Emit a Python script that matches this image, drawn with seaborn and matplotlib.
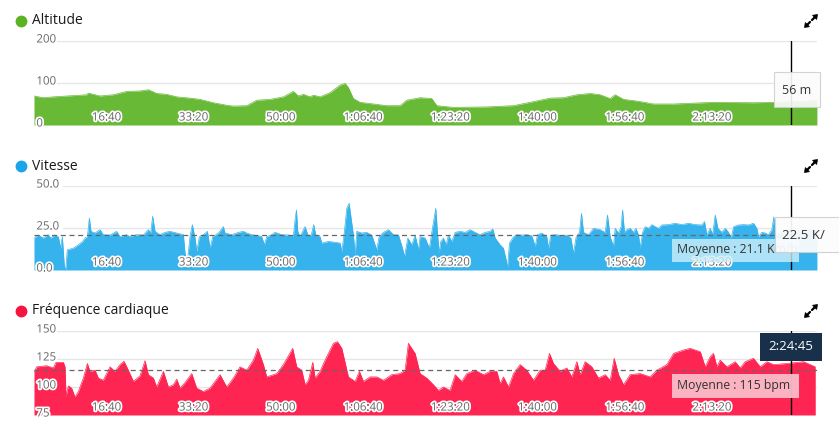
import matplotlib
matplotlib.use("Agg")
import matplotlib.pyplot as plt
import matplotlib.patheffects as pe
from matplotlib.lines import Line2D
from matplotlib.patches import Polygon, Rectangle
from matplotlib.transforms import blended_transform_factory
import seaborn as sns

# ---------- données (temps écoulé en secondes) ----------
alt_t = [0, 107, 222, 375, 604, 623, 757, 910, 1063, 1216, 1312, 1407, 1522, 1637, 1790,
         1904, 2057, 2210, 2287, 2440, 2554, 2707, 2860, 2975, 3033, 3090, 3166, 3205, 3281,
         3396, 3510, 3568, 3606, 3663, 3740, 3893, 4046, 4199, 4275, 4428, 4562, 4620, 4811,
         5193, 5499, 5690, 5920, 6073, 6226, 6379, 6493, 6608, 6665, 6761, 6914, 7105, 7335,
         7793, 8252, 8482, 8979]
alt_m = [69, 65, 67, 69, 72, 76, 69, 72, 80, 81, 84, 75, 73, 67, 64, 61, 53, 47, 45, 46,
         59, 61, 67, 80, 69, 73, 67, 71, 67, 77, 95, 99, 89, 63, 54, 50, 46, 46, 59, 65,
         63, 46, 42, 43, 46, 54, 64, 65, 72, 75, 72, 63, 72, 61, 57, 50, 50, 54, 53, 54, 58]

spd_t = [0, 23, 50, 107, 164, 191, 241, 279, 306, 325, 348, 363, 382, 451, 509, 558, 585,
         612, 635, 654, 700, 757, 795, 872, 948, 987, 1063, 1101, 1178, 1254, 1312, 1338,
         1361, 1388, 1445, 1503, 1560, 1637, 1713, 1732, 1759, 1789, 1816, 1847, 1866, 1897,
         1943, 1989, 2019, 2050, 2115, 2172,
         2191, 2268, 2344, 2401, 2440, 2497, 2574, 2612, 2642, 2669, 2727, 2765, 2841, 2918,
         2975, 2994, 3010, 3025, 3052, 3090, 3109, 3140, 3178, 3208, 3231, 3281, 3300, 3377,
         3453, 3511, 3530, 3560, 3587, 3614, 3637, 3663, 3683, 3702, 3759, 3816, 3874, 3931,
         3958, 4008, 4065, 4122, 4180, 4226, 4249, 4287, 4333, 4371, 4409,
         4428, 4486, 4535, 4562, 4589, 4608, 4627, 4646, 4665, 4696, 4727, 4753, 4792, 4830,
         4887, 4945, 5002, 5059, 5117, 5174, 5231, 5262, 5289, 5346, 5384, 5415, 5430, 5453,
         5499, 5537, 5595, 5652, 5709, 5748, 5774, 5824, 5881, 5901, 5927, 5996, 6053, 6111,
         6157, 6187, 6218, 6256, 6279, 6302, 6360, 6417, 6493, 6551, 6577, 6608, 6646,
         6665, 6704, 6734, 6750, 6772, 6799, 6838, 6876, 6903, 6933, 6952, 6979, 7010, 7048,
         7086, 7124, 7163, 7201, 7277, 7354, 7430, 7507, 7583, 7660, 7690, 7717, 7755, 7782,
         7813, 7843, 7889, 7928, 7966, 7996, 8023, 8080, 8138, 8195, 8252, 8290, 8310, 8348,
         8386, 8424, 8462, 8485, 8501, 8600, 8685, 8800, 8979]
spd_kmh = [19, 19.8, 20.8, 19, 21, 19, 20.8, 19.8, 13, 19.8, 2, 0, 12, 13, 15, 17, 19,
           19.8, 31, 23, 22, 24, 21, 20.8, 23, 19.8, 21, 19.8, 21, 20.8, 24, 22,
           32, 23, 21, 22.4, 23, 22, 21, 10, 5, 19.8, 27, 19, 11, 19.8,
           21, 23, 13, 19.8, 22, 25.8,
           22, 21, 22.4, 23, 22, 21, 20.4, 19.8, 15, 19.8, 21, 22.4, 21, 20.8,
           20.4, 30, 35.7, 23, 19.8, 24, 25.8, 21, 20.4, 27, 20.8, 19.8, 16, 17,
           16.5, 16, 11, 23, 36.7, 39.7, 30.8, 20.8, 9, 23, 22, 22.4, 20.8, 12,
           19.8, 22.4, 24, 21, 20.8, 13, 8, 19, 15, 20.8, 12,
           19.8, 19, 13, 22.4, 30.8, 36.7, 22.4, 10, 17, 19, 15, 20.8, 17, 22.4,
           23, 22.4, 24, 22.4, 21, 22.4, 23, 24.4, 19, 15, 13, 6, 1, 16,
           19.8, 21, 20.8, 21, 20.4, 14, 21, 22, 19.8, 13, 20.8, 21, 20.4, 20.8,
           19, 10, 19.8, 22.4, 33.7, 22.4, 21, 24.8, 24, 22.4, 32.7, 19.8, 14,
           24.8, 22, 25.8, 35.7, 22.4, 24, 24.8, 22.4, 24.8, 20.8, 13, 22.4, 25.8, 24.8,
           27, 25.8, 24.8, 26.8, 27, 27.8, 27, 27.8, 27, 26.8, 28.8, 20.8, 24.8, 21,
           32.7, 24.8, 22.4, 24.8, 22.4, 19, 25.8, 26.8, 27, 26.8, 27.8, 24.8, 19.8, 22.4,
           22, 21, 24, 31.7, 20.8, 23, 22.5, 24, 24]

hr_t = [0, 31, 145, 222, 253, 337, 356, 367, 394, 432, 470, 509, 566, 612, 642, 700, 738,
        795, 872, 929, 987, 1032, 1082, 1140, 1216, 1273, 1312, 1369, 1407, 1484, 1541, 1598,
        1637, 1675, 1732, 1809, 1866, 1943, 2019, 2134, 2210, 2287, 2363, 2440, 2516, 2566,
        2631, 2669, 2784, 2860, 2967, 3013, 3071, 3109, 3147, 3197, 3224, 3281, 3338, 3434,
        3480, 3530, 3606, 3683, 3732, 3778, 3855, 3931, 4008, 4103, 4199, 4256, 4294, 4371,
        4428, 4505, 4581, 4639, 4696, 4772, 4830, 4906, 4964, 5059, 5155, 5231, 5308, 5346,
        5384, 5442, 5499, 5575, 5652, 5728, 5805, 5862, 5912, 5958, 6034, 6111, 6168, 6226,
        6264, 6321, 6398, 6474, 6551, 6608, 6654, 6704, 6761, 6837, 6952, 7067, 7143, 7258,
        7335, 7449, 7526, 7641, 7698, 7755, 7793, 7832, 7870, 7946, 8042, 8099, 8157, 8252,
        8329, 8405, 8482, 8635, 8826, 8960]
hr_bpm = [113, 118, 119, 117, 122, 122, 118, 92, 101, 99, 91, 96, 108, 121, 114, 115, 108,
          106, 118, 114, 120, 123, 115, 105, 110, 123.5, 111, 108, 100, 114, 100, 102, 107,
          99, 104, 112, 99, 96, 99, 111, 100, 108, 118, 115, 124, 134.5, 120, 109, 112, 120,
          134.5, 118, 115, 102, 106, 122, 108, 114, 124, 139, 140.5, 134.5, 109, 105, 114,
          105, 109, 109, 106, 111, 112, 115, 139, 130, 112, 108, 102, 97, 100, 97, 111, 105,
          112, 115, 111, 114, 114, 103, 109, 100, 112, 120, 115, 106, 115, 115, 130, 121,
          114, 117, 109, 122.6, 111, 122.6, 118, 108, 111, 106, 125.6, 111, 102, 111, 112,
          109, 115, 120, 130, 133, 134.5, 131.5, 118, 127, 130, 118, 124, 118, 122.6, 117,
          122.6, 125.6, 118, 122.6, 120, 121, 122.6, 118]

x_ticks = [1000, 2000, 3000, 4000, 5000, 6000, 7000, 8000]
spd_mean = 21.1
hr_mean = 115
cursor_t = 8685  # 2:24:45
cursor_alt = "56 m"
cursor_spd = "22.5 K/"

W, H = 839, 425
T_MAX = 8980


def hms(sec):
    h, rest = divmod(int(sec), 3600)
    m, s = divmod(rest, 60)
    return f"{h}:{m:02d}:{s:02d}" if h else f"{m}:{s:02d}"


def fig_rect(x0, y0, x1, y1):
    # coordonnées pixel (origine en haut à gauche) -> fraction de figure
    return (x0 / W, 1 - y1 / H, (x1 - x0) / W, (y1 - y0) / H)


def fpt(x, y):
    return (x / W, 1 - y / H)


def box(x0, y0, x1, y1, face, alpha=1.0, edge="none", shadow=False, z=10):
    if shadow:
        r = fig_rect(x0 + 1, y0 + 1, x1 + 1, y1 + 1)
        fig.add_artist(Rectangle(r[:2], r[2], r[3], transform=fig.transFigure,
                                 facecolor="black", alpha=0.12, lw=0, zorder=z - 0.1))
    r = fig_rect(x0, y0, x1, y1)
    fig.add_artist(Rectangle(r[:2], r[2], r[3], transform=fig.transFigure,
                             facecolor=face, alpha=alpha, edgecolor=edge, lw=0.8, zorder=z))


def expand_icon(cx, cy):
    # deux petites flèches NE / SO
    for sgn in (1, -1):
        tip = (cx + sgn * 6.5, cy - sgn * 6.5)
        head = [tip, (tip[0] - sgn * 5, tip[1] + sgn * 0.8), (tip[0] - sgn * 0.8, tip[1] + sgn * 5)]
        fig.add_artist(Polygon([fpt(*p) for p in head], closed=True, transform=fig.transFigure,
                               facecolor="black", edgecolor="black", lw=0.5))
        a = fpt(cx + sgn * 1.0, cy - sgn * 1.0)
        b = fpt(cx + sgn * 4.0, cy - sgn * 4.0)
        fig.add_artist(Line2D([a[0], b[0]], [a[1], b[1]], color="black", lw=1.6,
                              transform=fig.transFigure))


sns.set_theme(style="white")
plt.rcParams["font.family"] = ["Open Sans", "DejaVu Sans"]

fig = plt.figure(figsize=(W / 100, H / 100), dpi=100)
halo = [pe.withStroke(linewidth=2.5, foreground="white")]

panels = [
    dict(title="Altitude", fill="#68b935", dot="#5cb320", t=alt_t, v=alt_m,
         ylim=(0, 200), yticks=[0, 100, 200], ylabels=["0", "100", "200"],
         top=41, bottom=125, title_y=21, grid_x=0.03, mean=None),
    dict(title="Vitesse", fill="#36b3ec", dot="#1ba4e9", t=spd_t, v=spd_kmh,
         ylim=(0, 50), yticks=[0, 25, 50], ylabels=["0.0", "25.0", "50.0"],
         top=186, bottom=270, title_y=166, grid_x=0.037, mean=spd_mean),
    dict(title="Fréquence cardiaque", fill="#ff2553", dot="#f5143f", t=hr_t, v=hr_bpm,
         ylim=(75, 150), yticks=[75, 100, 125, 150], ylabels=["75", "100", "125", "150"],
         top=331, bottom=415, title_y=311, grid_x=0.03, mean=hr_mean),
]

for p in panels:
    ax = fig.add_axes(fig_rect(34, p["top"], 817, p["bottom"]))
    lo, hi = p["ylim"]
    for y in p["yticks"][1:]:
        ax.axhline(y, xmin=p["grid_x"], color="#e6e6e6", lw=1, zorder=0)
    ax.fill_between(p["t"], p["v"], lo, color=p["fill"], lw=0, zorder=1)
    sns.lineplot(x=p["t"], y=p["v"], ax=ax, color=p["fill"], lw=0.5, zorder=1)
    if p["mean"] is not None:
        ax.axhline(p["mean"], color="#666666", lw=0.9, ls=(0, (4, 3)), zorder=2)
    ax.axvline(cursor_t, color="black", lw=1, zorder=3)
    ax.set_xlim(0, T_MAX)
    ax.set_ylim(lo, hi)
    ax.set_axis_off()

    # étiquettes d'axe dessinées à l'intérieur du graphique
    bx = blended_transform_factory(ax.transData, ax.transAxes)
    for t in x_ticks:
        ax.text(t, 0.095, hms(t), transform=bx, ha="right", va="center",
                fontsize=8.3, color="#666666", path_effects=halo, zorder=4)
    for y, lab in zip(p["yticks"], p["ylabels"]):
        fy = (y - lo) / (hi - lo) + 2 / 84
        ax.text(0.003, fy, lab, transform=ax.transAxes, ha="left", va="center",
                fontsize=8.3, color="#666666", path_effects=halo, zorder=4)

    # titre avec pastille
    ty = 1 - p["title_y"] / H
    fig.add_artist(Line2D([21 / W], [ty], marker="o", ms=7.5, ls="none",
                          color=p["dot"], transform=fig.transFigure))
    fig.text(32 / W, ty, p["title"], fontsize=10, va="center", color="#1a1a1a")
    expand_icon(811, p["title_y"])

# ---------- infobulles ----------
box(774, 72, 820, 107, "white", alpha=0.9, edge="#d0d0d0", shadow=True)
fig.text(797 / W, 1 - 90 / H, cursor_alt, ha="center", va="center", fontsize=9,
         color="#333333", zorder=11)

box(672, 239, 799, 262, "#cdeef9", alpha=0.8, z=8)
fig.text(677 / W, 1 - 249.5 / H, f"Moyenne : {spd_mean} Km/h", ha="left", va="center",
         fontsize=8.8, color="#333333", zorder=8.5)
box(775, 217, 842, 252, "white", alpha=0.93, edge="#d0d0d0", shadow=True)
fig.text(782 / W, 1 - 235 / H, cursor_spd, ha="left", va="center", fontsize=9.5,
         color="#333333", zorder=11)

box(672, 374, 799, 398, "#fbbcc8", alpha=0.95)
fig.text(677 / W, 1 - 386 / H, f"Moyenne : {hr_mean} bpm", ha="left", va="center",
         fontsize=8.8, color="#333333", zorder=11)

box(760, 333, 822, 361, "#18304a")
fig.text(791 / W, 1 - 347 / H, hms(cursor_t), ha="center", va="center", fontsize=9.5,
         color="white", zorder=11)

fig.savefig("out.png", dpi=100)
